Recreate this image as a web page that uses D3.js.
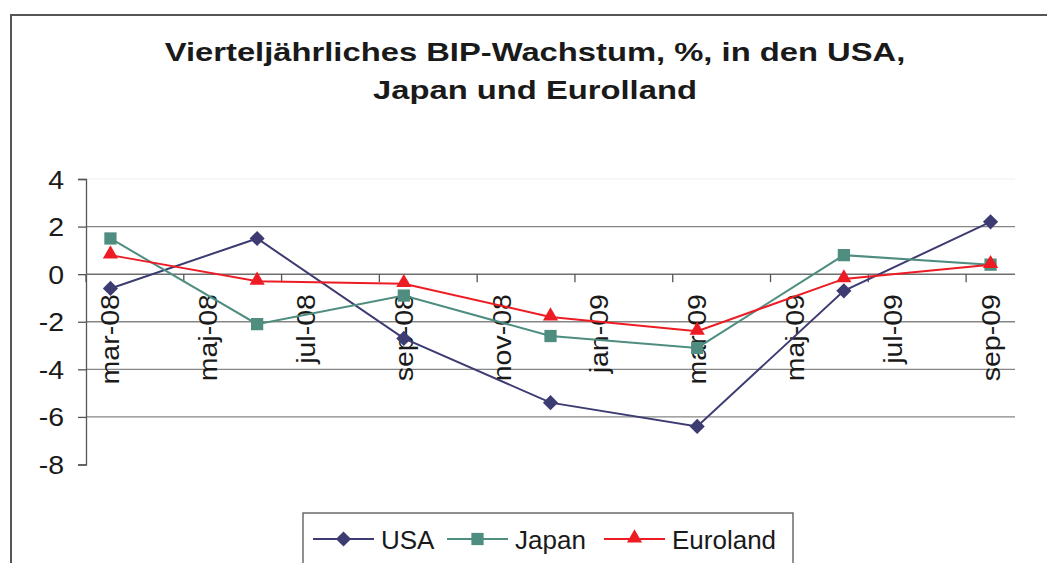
<!DOCTYPE html>
<html>
<head>
<meta charset="utf-8">
<script src="https://cdn.jsdelivr.net/npm/d3@7"></script>
<style>
  body { margin: 0; background: #fff; }
  text { font-family: "Liberation Sans", Arial, Helvetica, sans-serif; fill: #1a1a1a; }
</style>
</head>
<body>
<svg id="chart" width="1047" height="563"></svg>
<script>
// month categories on the date axis (one band per month)
const months = ["mar-08","apr-08","maj-08","jun-08","jul-08","aug-08","sep-08","okt-08","nov-08","dec-08",
                "jan-09","feb-09","mar-09","apr-09","maj-09","jun-09","jul-09","aug-09","sep-09"];
const monthLabels = ["mar-08","maj-08","jul-08","sep-08","nov-08","jan-09","mar-09","maj-09","jul-09","sep-09"];
const quarters = ["mar-08","jun-08","sep-08","dec-08","mar-09","jun-09","sep-09"];

const usa      = [-0.6, 1.5, -2.7, -5.4, -6.4, -0.7, 2.2];
const japan    = [1.5, -2.1, -0.9, -2.6, -3.1, 0.8, 0.4];
const euroland = [0.8, -0.3, -0.4, -1.8, -2.4, -0.2, 0.4];

const yTicks = [4, 2, 0, -2, -4, -6, -8];
const gridValues = [2, -2, -4, -6];
const titleLines = ["Vierteljährliches BIP-Wachstum, %, in den USA,", "Japan und Eurolland"];

const series = [
  { name: "USA", values: usa, color: "#3d3c72", symbol: "diamond" },
  { name: "Japan", values: japan, color: "#4e8d80", symbol: "square" },
  { name: "Euroland", values: euroland, color: "#ed1c24", symbol: "triangle" }
];

const svg = d3.select("#chart");
const W = 1047, H = 563;
const stretch = 1.14; // glyphs in the picture are a bit wider than Liberation Sans

svg.append("rect").attr("width", W).attr("height", H).attr("fill", "#fff");

// outer chart frame
svg.append("rect")
  .attr("x", 11).attr("y", 15)
  .attr("width", W + 20).attr("height", H + 20)
  .attr("fill", "none").attr("stroke", "#555").attr("stroke-width", 2);

// title
svg.append("g").selectAll("text")
  .data(titleLines)
  .enter()
  .append("text")
  .attr("transform", (d, i) => `translate(535,${61 + i * 37.5}) scale(1.26,1)`)
  .attr("text-anchor", "middle")
  .attr("font-size", 26)
  .attr("font-weight", "bold")
  .attr("fill", "#222")
  .text(d => d);

const x = d3.scaleBand().domain(months).range([86, 1015]);
const y = d3.scaleLinear().domain([-8, 4]).range([464.5, 179]);
const cx = m => x(m) + x.bandwidth() / 2;

// gridlines
svg.append("line")
  .attr("x1", 86).attr("x2", 1015)
  .attr("y1", y(4)).attr("y2", y(4))
  .attr("stroke", "#eeeeee").attr("stroke-width", 1);

svg.append("g").selectAll("line")
  .data(gridValues)
  .enter()
  .append("line")
  .attr("x1", 86).attr("x2", 1015)
  .attr("y1", d => y(d)).attr("y2", d => y(d))
  .attr("stroke", "#858585").attr("stroke-width", 1.3);

// y axis
const yAxis = svg.append("g").attr("transform", "translate(86,0)")
  .call(d3.axisLeft(y).tickValues(yTicks).tickSize(8).tickFormat(d3.format("d")));
yAxis.select(".domain").attr("stroke", "#555").attr("stroke-width", 1.3);
yAxis.selectAll(".tick line").attr("stroke", "#555").attr("stroke-width", 1.3);
yAxis.selectAll(".tick text")
  .attr("x", null).attr("dy", null)
  .attr("font-size", 25)
  .attr("fill", "#1a1a1a")
  .attr("transform", `translate(-22,9) scale(${stretch},1)`)
  .text(d => d < 0 ? "-" + Math.abs(d) : d);

// x axis along zero, ticks every second month boundary
const tickMonths = months.filter((m, i) => i % 2 === 0);
const xAxis = svg.append("g").attr("transform", `translate(0,${y(0)})`);
xAxis.append("line")
  .attr("x1", 86).attr("x2", 1015)
  .attr("stroke", "#6e6e6e").attr("stroke-width", 1.5);
xAxis.selectAll(".tk")
  .data(tickMonths)
  .enter()
  .append("line")
  .attr("class", "tk")
  .attr("x1", d => x(d)).attr("x2", d => x(d))
  .attr("y1", 0).attr("y2", 8)
  .attr("stroke", "#555").attr("stroke-width", 1.3);
xAxis.selectAll(".lbl")
  .data(monthLabels)
  .enter()
  .append("text")
  .attr("class", "lbl")
  .attr("transform", d => `translate(${cx(d) + 9},20) rotate(-90) scale(${stretch},1)`)
  .attr("text-anchor", "end")
  .attr("font-size", 25)
  .text(d => d);

// markers
function drawMarker(g, type, color) {
  if (type === "diamond") {
    g.append("path").attr("d", d3.symbol(d3.symbolSquare, 115)())
      .attr("transform", "rotate(45)").attr("fill", color);
  } else if (type === "square") {
    g.append("path").attr("d", d3.symbol(d3.symbolSquare, 150)()).attr("fill", color);
  } else {
    g.append("path").attr("d", d3.symbol(d3.symbolTriangle, 100)())
      .attr("transform", "translate(0,-1)").attr("fill", color);
  }
}

const line = d3.line().x((d, i) => cx(quarters[i])).y(d => y(d));

series.forEach(s => {
  const g = svg.append("g");
  g.append("path")
    .datum(s.values)
    .attr("d", line)
    .attr("fill", "none")
    .attr("stroke", s.color)
    .attr("stroke-width", 2);
  g.selectAll(".pt")
    .data(s.values)
    .enter()
    .append("g")
    .attr("class", "pt")
    .attr("transform", (d, i) => `translate(${cx(quarters[i])},${y(d)})`)
    .each(function() { drawMarker(d3.select(this), s.symbol, s.color); });
});

// legend
const legend = svg.append("g");
legend.append("rect")
  .attr("x", 303).attr("y", 513)
  .attr("width", 490).attr("height", 70)
  .attr("fill", "#fff").attr("stroke", "#555").attr("stroke-width", 1.3);

const legendX = [313, 447, 604];
series.forEach((s, i) => {
  const g = legend.append("g").attr("transform", `translate(${legendX[i]},539)`);
  g.append("line").attr("x1", 0).attr("x2", 61)
    .attr("stroke", s.color).attr("stroke-width", 2);
  const mk = g.append("g").attr("transform", "translate(30.5,0)");
  drawMarker(mk, s.symbol, s.color);
  g.append("text")
    .attr("x", 68).attr("y", 10)
    .attr("font-size", 26)
    .text(s.name);
});
</script>
</body>
</html>
